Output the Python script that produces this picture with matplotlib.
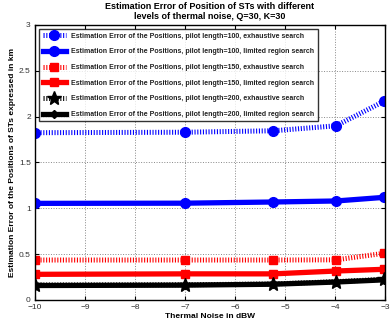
import matplotlib
matplotlib.use("Agg")
import matplotlib.pyplot as plt

plt.rcParams['font.family'] = ['Liberation Sans', 'DejaVu Sans']

x = [-10, -6.99, -5.23, -3.98, -3.01]
e100_exh = [1.825, 1.83, 1.846, 1.90, 2.17]
e100_lim = [1.054, 1.056, 1.069, 1.08, 1.12]
e150_exh = [0.436, 0.436, 0.436, 0.438, 0.51]
e150_lim = [0.28, 0.285, 0.285, 0.316, 0.335]
e200_exh = [0.164, 0.166, 0.175, 0.20, 0.226]
e200_lim = [0.158, 0.162, 0.172, 0.196, 0.22]

labels = [
    "Estimation Error of the Positions, pilot length=100, exhaustive search",
    "Estimation Error of the Positions, pilot length=100, limited region search",
    "Estimation Error of the Positions, pilot length=150, exhaustive search",
    "Estimation Error of the Positions, pilot length=150, limited region search",
    "Estimation Error of the Positions, pilot length=200, exhaustive search",
    "Estimation Error of the Positions, pilot length=200, limited region search",
]
xticks = [-10, -9, -8, -7, -6, -5, -4, -3]
yticks = [0, 0.5, 1, 1.5, 2, 2.5, 3]

fig = plt.figure(figsize=(3.92, 3.27), dpi=100)
ax = fig.add_axes([0.089, 0.0826, 0.893, 0.841])

dot = dict(linestyle=(0, (0.22, 0.34)), linewidth=3.6, dash_capstyle='butt')
ax.plot(x, e100_exh, color='#0000ff', marker='o', markersize=7, label=labels[0], **dot)
ax.plot(x, e100_lim, color='#0000ff', marker='o', markersize=7, linewidth=3.8, label=labels[1])
ax.plot(x, e150_exh, color='#ff0000', marker='s', markersize=5.5, label=labels[2], **dot)
ax.plot(x, e150_lim, color='#ff0000', marker='s', markersize=5.5, linewidth=3.8, label=labels[3])
ax.plot(x, e200_exh, color='black', marker='*', markersize=10, label=labels[4], **dot)
ax.plot(x, e200_lim, color='black', marker='D', markersize=4.5, linewidth=3.8, label=labels[5])

ax.set_xlim(-10, -3)
ax.set_ylim(0, 3)
ax.set_xticks(xticks)
ax.set_yticks(yticks)
ax.set_xticklabels([str(t).replace('-', '\u2212') for t in xticks])
ax.set_yticklabels(['0', '0.5', '1', '1.5', '2', '2.5', '3'])
ax.tick_params(axis='both', direction='in', top=True, right=True, labelsize=6,
               labelcolor='#333333', length=3)
ax.tick_params(axis='x', pad=3)
ax.tick_params(axis='y', pad=3)
ax.grid(True, linestyle=':', color='#888888', linewidth=0.7)
for s in ax.spines.values():
    s.set_linewidth(1.0)

ax.set_title("Estimation Error of Position of STs with different\nlevels of thermal noise, Q=30, K=30",
             fontsize=6.5, fontweight='bold', pad=4, linespacing=1.2)
ax.set_xlabel("Thermal Noise in dBW", fontsize=6, fontweight='bold', labelpad=1)
ax.set_ylabel("Estimation Error of the Positions of STs expressed in km", fontsize=6,
              fontweight='bold', labelpad=2)

leg = ax.legend(loc='upper left', fontsize=5.0, frameon=True, fancybox=False,
                borderpad=0.5, labelspacing=1.25, handlelength=3.4, handletextpad=0.7,
                borderaxespad=0.6)
leg.get_frame().set_edgecolor('black')
leg.get_frame().set_linewidth(1.0)
for t in leg.get_texts():
    t.set_fontweight('bold')
    t.set_color('#222222')

fig.savefig("out.png", dpi=100)
